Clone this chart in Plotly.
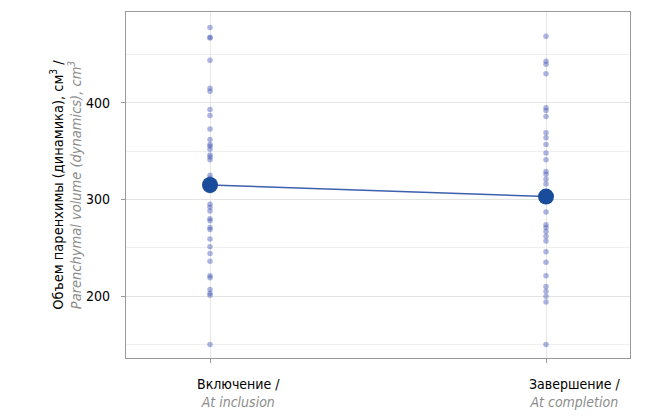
import plotly.graph_objects as go

# Parenchymal volume, cm3, per patient at each visit
categories = ["Включение /", "Завершение /"]
categories_en = ["At inclusion", "At completion"]

inclusion_values = [478, 468, 467, 444, 415, 412, 393, 387, 373, 362,
                    357, 355, 352, 346, 344, 341, 325, 322, 318, 313,
                    311, 309, 295, 292, 288, 280, 278, 271, 269, 259,
                    251, 244, 236, 221, 219, 207, 203, 201, 150]
completion_values = [469, 443, 440, 430, 395, 392, 386, 369, 364, 357,
                     348, 341, 329, 326, 321, 316, 300, 287, 274, 271,
                     267, 262, 257, 246, 235, 221, 210, 205, 200, 194,
                     150]

# Group means
mean_values = [315, 303]

GRAY = "#8c8c8c"
FONT = "DejaVu Sans Condensed, Liberation Sans, sans-serif"

x_pos = [1, 2]

fig = go.Figure()

for xp, vals in zip(x_pos, [inclusion_values, completion_values]):
    fig.add_trace(go.Scatter(
        x=[xp] * len(vals), y=vals, mode="markers",
        marker=dict(size=5.5, color="rgba(70,90,185,0.45)", line=dict(width=0)),
        hoverinfo="y", showlegend=False,
    ))

fig.add_trace(go.Scatter(
    x=x_pos, y=mean_values, mode="lines+markers",
    line=dict(color="#3d5fae", width=1.5),
    marker=dict(size=16, color="#1a4c9c"),
    showlegend=False,
))

# Bilingual category labels under each visit
for xp, ru, en in zip(x_pos, categories, categories_en):
    fig.add_annotation(
        x=xp, xref="x", y=0, yref="paper", yanchor="top",
        xshift=28, yshift=-16, showarrow=False, align="center",
        text=f"{ru}<br><i><span style='color:{GRAY}'>{en}</span></i>",
        font=dict(size=14, family=FONT, color="black"),
    )

fig.update_layout(
    width=648, height=420,
    margin=dict(l=126, r=18, t=12, b=62),
    paper_bgcolor="white", plot_bgcolor="white",
    font=dict(family=FONT, size=14, color="black"),
    xaxis=dict(
        range=[0.75, 2.25], tickvals=x_pos, showticklabels=False,
        showgrid=True, gridcolor="#e8e8e8", gridwidth=1,
        showline=True, linecolor="#9a9a9a", linewidth=1.2, mirror=True,
        ticks="outside", ticklen=4, tickcolor="#9a9a9a",
        zeroline=False,
    ),
    yaxis=dict(
        range=[136, 494], tickvals=[200, 300, 400],
        showgrid=True, gridcolor="#e3e3e3", gridwidth=1,
        minor=dict(tickvals=[150, 250, 350, 450], showgrid=True,
                   gridcolor="#efefef", gridwidth=1),
        showline=True, linecolor="#9a9a9a", linewidth=1.2, mirror=True,
        ticks="outside", ticklen=4, tickcolor="#9a9a9a",
        ticklabelstandoff=8,
        zeroline=False, tickfont=dict(size=14, family=FONT),
        title=dict(
            text=("Объем паренхимы (динамика), см<sup>3</sup> /<br>"
                  f"<i><span style='color:{GRAY}'>Parenchymal volume (dynamics), "
                  "cm<sup>3</sup></span></i>"),
            font=dict(size=14.5, family=FONT), standoff=0,
        ),
    ),
)

fig.write_html("out.html")
